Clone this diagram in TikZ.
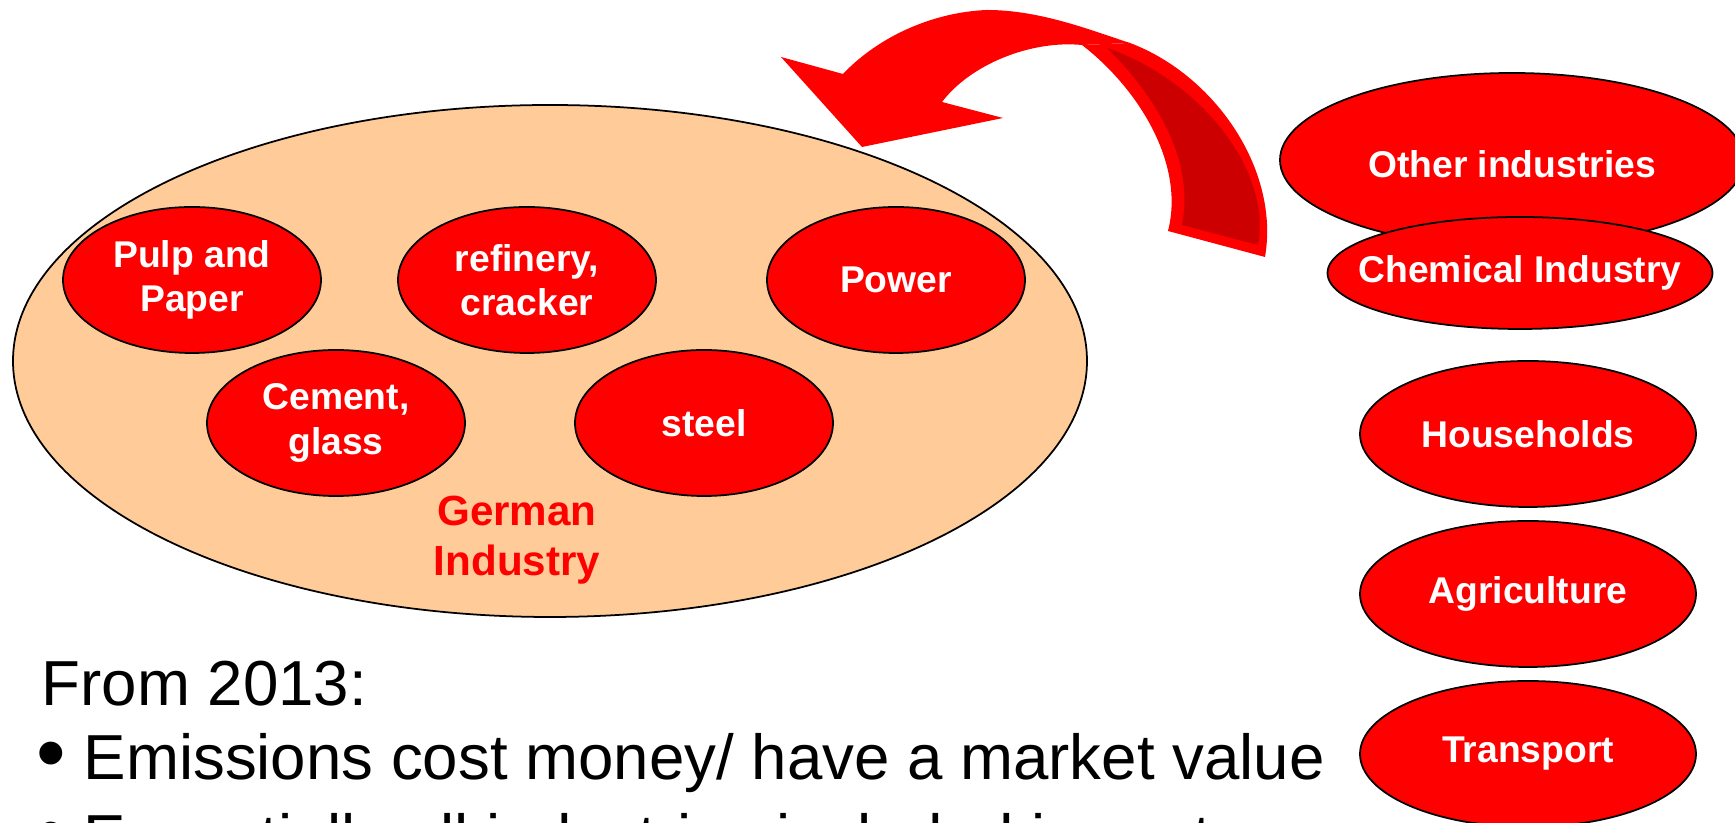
\documentclass[tikz,border=0pt]{standalone}
\usepackage{fontspec}
\setmainfont{Liberation Sans}
\definecolor{myred}{RGB}{255,0,0}
\definecolor{mydarkred}{RGB}{204,0,0}
\definecolor{mypeach}{RGB}{255,204,153}
\usetikzlibrary{shapes.geometric,positioning}
\newcommand{\lblfont}{\fontsize{10.6}{12.6}\selectfont\bfseries}
\newcommand{\grpfont}{\fontsize{12}{14.2}\selectfont\bfseries}
\newcommand{\bodyfont}{\fontsize{18.1}{21}\selectfont}
\newcommand{\dotfont}{\fontsize{24}{24}\selectfont}

\begin{document}
\begin{tikzpicture}[x=0.1mm,y=-0.1mm,
    every node/.style={inner sep=0pt,align=center},
    sector/.style={ellipse,draw=black,line width=0.5pt,fill=myred,text=white,
        font=\lblfont,minimum width=25.8mm,minimum height=14.6mm},
    other/.style={sector,minimum width=33.6mm},
    line/.style={anchor=base west,font=\bodyfont},
    node distance=16mm
    ]
    \useasboundingbox (0,0) rectangle (1735,823);
    \clip (0,0) rectangle (1735,823);

    % the group
    \node (industry) [ellipse,draw=black,line width=0.5pt,fill=mypeach,
        minimum width=107.4mm,minimum height=51.2mm] at (550,361) {};
    \node (pulp) [sector] at (192,280) {Pulp and\\Paper};
    \node (refinery) [sector] at (527,280) {refinery,\\cracker};
    \node (power) [sector] at (896,280) {Power};
    \node (cement) [sector] at (336,423) {Cement,\\glass};
    \node (steel) [sector] at (704,423) {steel};
    \node (german) [font=\grpfont,text=myred] at (517,540) {German\\Industry};

    % the sectors outside
    \node (others) [other,text height=12pt,text depth=2pt,minimum width=46.4mm,minimum height=17.4mm] at (1512,160) {Other industries};
    \node (chemical) [other,inner xsep=-2.6mm,minimum width=38.5mm,minimum height=11.2mm] at (1520,273) {Chemical Industry};
    \node (households) [other] at (1528,434) {Households};
    \node (agriculture) [other,below of=households] {Agriculture};
    \node (transport) [other,below of=agriculture] {Transport};

    % the arrow
    \fill[myred] (1082,45) -- (1130,43) .. controls (1215,75) and (1280,170) .. (1265,257)
        -- (1168,231) .. controls (1185,165) and (1140,90) .. (1082,45) -- cycle;
    \fill[mydarkred] (1107,48) .. controls (1200,80) and (1272,170) .. (1258,245)
        -- (1182,225) .. controls (1195,160) and (1155,95) .. (1107,48) -- cycle;
    \fill[myred] (843,74) .. controls (880,35) and (935,12) .. (987,10)
        .. controls (1040,10) and (1090,30) .. (1130,43) -- (1082,45)
        .. controls (1030,40) and (970,65) .. (942,102)
        -- (1003,118) -- (862,147) -- (781,57) -- cycle;

    % the text
    \node (from) [line] at (41,706) {From 2013:};
    \node (dot1) [anchor=base west,font=\dotfont] at (36,782) {\textbullet};
    \node (item1) [line] at (83,780) {Emissions cost money/ have a market value};
    \node (dot2) [anchor=base west,font=\dotfont] at (36,862) {\textbullet};
    \node (item2) [line] at (83,860) {Essentially all industries included in system};
\end{tikzpicture}
\end{document}
